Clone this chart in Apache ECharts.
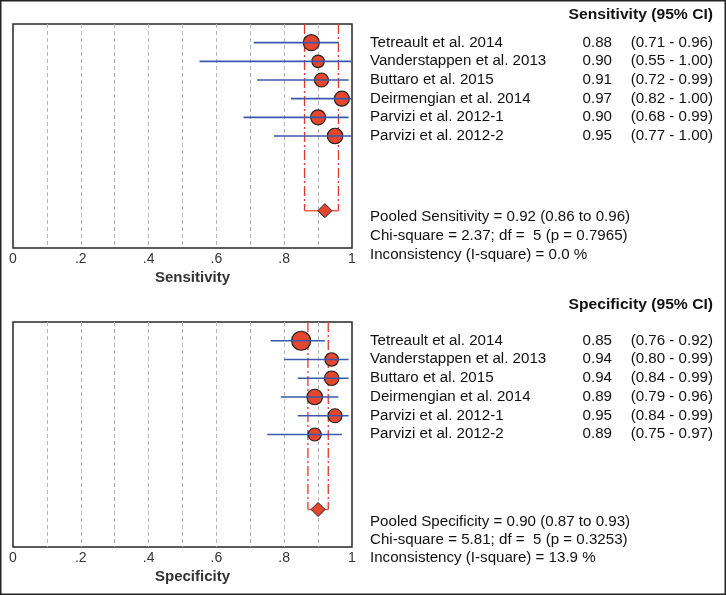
<!DOCTYPE html>
<html>
<head>
<meta charset="utf-8">
<script src="https://cdn.jsdelivr.net/npm/echarts@6/dist/echarts.min.js"></script>
<style>
html,body{margin:0;padding:0;background:#fff;overflow:hidden;}
#chart{width:726px;height:595px;}
</style>
</head>
<body>
<div id="chart"></div>
<script>
// ---------------- data ----------------
const studies = ['Tetreault et al. 2014', 'Vanderstappen et al. 2013', 'Buttaro et al. 2015',
  'Deirmengian et al. 2014', 'Parvizi et al. 2012-1', 'Parvizi et al. 2012-2'];
const sensEst  = [0.88, 0.90, 0.91, 0.97, 0.90, 0.95];
const sensLow  = [0.71, 0.55, 0.72, 0.82, 0.68, 0.77];
const sensHigh = [0.96, 1.00, 0.99, 1.00, 0.99, 1.00];
const sensWeight = [16, 12.5, 14, 15, 15, 15.5];
const sensPooled = [0.92, 0.86, 0.96];
const sensStats = ['Pooled Sensitivity = 0.92 (0.86 to 0.96)',
  'Chi-square = 2.37; df =  5 (p = 0.7965)',
  'Inconsistency (I-square) = 0.0 %'];

const specEst  = [0.85, 0.94, 0.94, 0.89, 0.95, 0.89];
const specLow  = [0.76, 0.80, 0.84, 0.79, 0.84, 0.75];
const specHigh = [0.92, 0.99, 0.99, 0.96, 0.99, 0.97];
const specWeight = [19, 13.5, 14.5, 15.5, 14, 13];
const specPooled = [0.90, 0.87, 0.93];
const specStats = ['Pooled Specificity = 0.90 (0.87 to 0.93)',
  'Chi-square = 5.81; df =  5 (p = 0.3253)',
  'Inconsistency (I-square) = 13.9 %'];

const tickLabels = ['0', '.2', '.4', '.6', '.8', '1'];
const axisNames = ['Sensitivity', 'Specificity'];
const headers = ['Sensitivity (95% CI)', 'Specificity (95% CI)'];

// ---------------- style / layout ----------------
const FONT = '"Liberation Sans", Arial, sans-serif';
const FILL = '#e5462d';
const BLUE = '#3a58ad';
const RED = '#e0392b';
const TXT = '#111';
const POOLED_ROW = 9;
const SX = 1.08;

const panels = [
  {est: sensEst, low: sensLow, high: sensHigh, w: sensWeight, pooled: sensPooled, stats: sensStats,
   statRows: [9.35, 10.38, 11.4], headerGap: 9, header: headers[0], name: axisNames[0], top: 24, height: 224},
  {est: specEst, low: specLow, high: specHigh, w: specWeight, pooled: specPooled, stats: specStats,
   statRows: [9.65, 10.62, 11.6], headerGap: 17, header: headers[1], name: axisNames[1], top: 322, height: 225}
];

const grids = [], xAxes = [], yAxes = [], series = [];

panels.forEach((p, k) => {
  grids.push({left: 13, width: 339, top: p.top, height: p.height, show: true,
    borderColor: '#262626', borderWidth: 1.5, backgroundColor: 'transparent'});
  xAxes.push({type: 'value', gridIndex: k, min: 0, max: 1, interval: 0.1,
    axisLine: {show: false}, axisTick: {show: false},
    splitLine: {show: true, showMinLine: false, showMaxLine: false,
      lineStyle: {color: '#b5b5b5', type: [4, 3], width: 1}},
    axisLabel: {margin: 4, fontFamily: FONT, fontSize: 14, color: '#333',
      formatter: v => { const t = Math.round(v * 10); return t % 2 === 0 ? tickLabels[t / 2] : ''; }},
    name: p.name, nameLocation: 'middle', nameGap: 22,
    nameTextStyle: {fontFamily: FONT, fontSize: 15, fontWeight: 'bold', color: '#333', padding: [0, 0, 0, 20]}
  });
  yAxes.push({type: 'value', gridIndex: k, min: -1, max: 11, inverse: true, show: false});

  const rowData = p.est.map((e, i) => [e, i, p.low[i], p.high[i], p.w[i]]);

  // study markers
  series.push({type: 'scatter', xAxisIndex: k, yAxisIndex: k, z: 3,
    data: rowData, symbol: 'circle',
    symbolSize: d => d[4],
    itemStyle: {color: FILL, borderColor: '#222', borderWidth: 1.2, opacity: 1},
    emphasis: {disabled: true}, silent: true});

  // CI lines
  series.push({type: 'custom', xAxisIndex: k, yAxisIndex: k, z: 4, silent: true,
    data: rowData,
    renderItem: (params, api) => {
      const a = api.coord([api.value(2), api.value(1)]);
      const b = api.coord([api.value(3), api.value(1)]);
      return {type: 'line', shape: {x1: a[0], y1: a[1], x2: b[0], y2: b[1]},
        style: {stroke: BLUE, lineWidth: 1.6}};
    }});

  // pooled bracket
  series.push({type: 'custom', xAxisIndex: k, yAxisIndex: k, z: 2, silent: true,
    data: [[p.pooled[1], p.pooled[2], POOLED_ROW]],
    renderItem: (params, api) => {
      const lo = api.value(0), hi = api.value(1), r = api.value(2);
      const t1 = api.coord([lo, -1]), b1 = api.coord([lo, r]);
      const t2 = api.coord([hi, -1]), b2 = api.coord([hi, r]);
      return {type: 'group', children: [
        {type: 'line', shape: {x1: t1[0], y1: t1[1], x2: b1[0], y2: b1[1]},
          style: {stroke: RED, lineWidth: 1.3, lineDash: [10, 3, 2, 3]}},
        {type: 'line', shape: {x1: t2[0], y1: t2[1], x2: b2[0], y2: b2[1]},
          style: {stroke: RED, lineWidth: 1.3, lineDash: [10, 3, 2, 3]}},
        {type: 'line', shape: {x1: b1[0], y1: b1[1], x2: b2[0], y2: b2[1]},
          style: {stroke: '#e8604f', lineWidth: 1.5}}
      ]};
    }});

  // pooled diamond
  series.push({type: 'scatter', xAxisIndex: k, yAxisIndex: k, z: 5, silent: true,
    data: [[p.pooled[0], POOLED_ROW]], symbol: 'diamond', symbolSize: [14, 14],
    itemStyle: {color: FILL, borderColor: '#222', borderWidth: 1, opacity: 1}});

  // row texts (study name, estimate, CI)
  series.push({type: 'custom', xAxisIndex: k, yAxisIndex: k, z: 6, silent: true, clip: false,
    data: rowData,
    renderItem: (params, api) => {
      const i = params.dataIndex;
      const y = api.coord([0, api.value(1)])[1];
      const st = {fontFamily: FONT, fontSize: 14, fill: TXT, verticalAlign: 'middle'};
      return {type: 'group', children: [
        {type: 'text', x: 370, y: y, scaleX: SX, style: Object.assign({text: studies[i], align: 'left'}, st)},
        {type: 'text', x: 612, y: y, scaleX: SX, style: Object.assign({text: p.est[i].toFixed(2), align: 'right'}, st)},
        {type: 'text', x: 713, y: y, scaleX: SX, style: Object.assign({
          text: '(' + p.low[i].toFixed(2) + ' - ' + p.high[i].toFixed(2) + ')', align: 'right'}, st)}
      ]};
    }});

  // pooled statistics + header
  series.push({type: 'custom', xAxisIndex: k, yAxisIndex: k, z: 6, silent: true, clip: false,
    data: p.statRows.map((r, j) => [0, r, j]),
    renderItem: (params, api) => {
      const y = api.coord([0, api.value(1)])[1];
      const j = api.value(2);
      const children = [{type: 'text', x: 370, y: y, scaleX: SX,
        style: {text: p.stats[j], fontFamily: FONT, fontSize: 14, fill: TXT, align: 'left', verticalAlign: 'middle'}}];
      if (j === 0) {
        const hy = api.coord([0, -1])[1] - p.headerGap;
        children.push({type: 'text', x: 713, y: hy, scaleX: SX,
          style: {text: p.header, fontFamily: FONT, fontSize: 14.5, fontWeight: 'bold', fill: TXT, align: 'right', verticalAlign: 'middle'}});
      }
      return {type: 'group', children};
    }});
});

const chart = echarts.init(document.getElementById('chart'), null, {renderer: 'canvas', width: 726, height: 595});
chart.setOption({
  animation: false,
  backgroundColor: '#fff',
  grid: grids, xAxis: xAxes, yAxis: yAxes, series,
  graphic: [{type: 'rect', z: 100, silent: true,
    shape: {x: 0.75, y: 0.75, width: 724.5, height: 593.5},
    style: {fill: null, stroke: '#222', lineWidth: 1.5}}]
});
</script>
</body>
</html>
